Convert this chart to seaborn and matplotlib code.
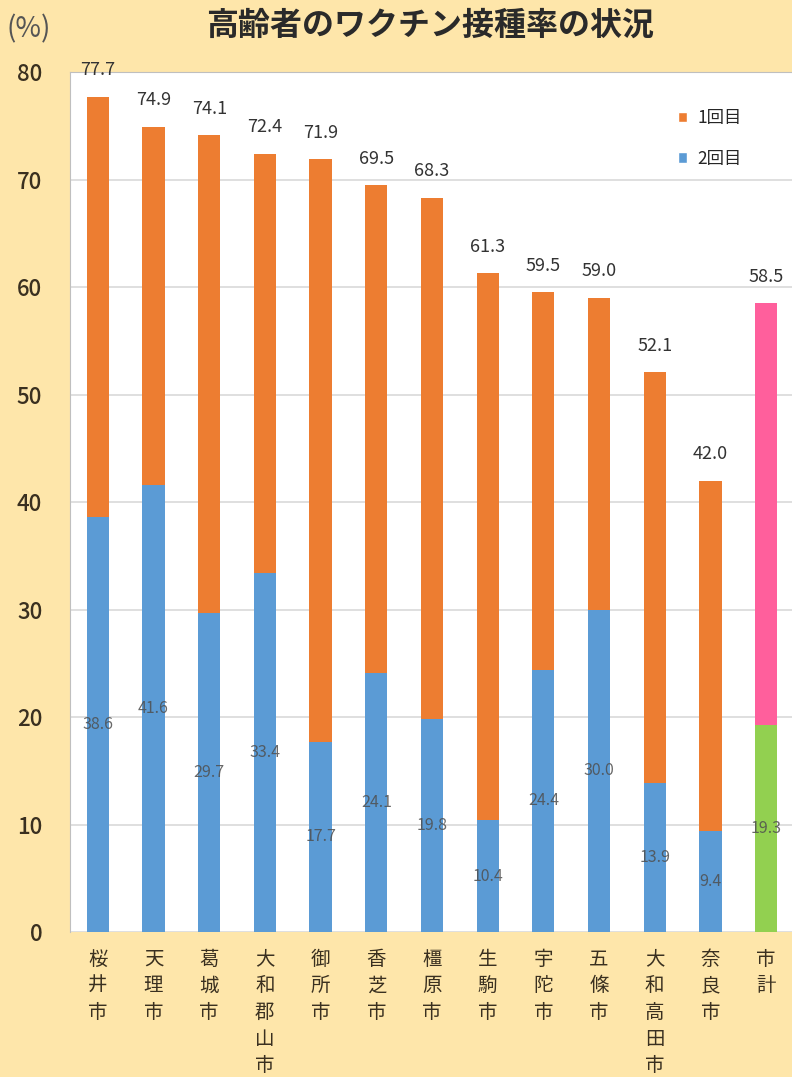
import matplotlib
matplotlib.use('Agg')
import matplotlib.pyplot as plt
import seaborn as sns
import pandas as pd
from matplotlib.patches import Patch

cities = ['桜井市', '天理市', '葛城市', '大和郡山市', '御所市', '香芝市', '橿原市',
          '生駒市', '宇陀市', '五條市', '大和高田市', '奈良市', '市計']
dose1 = [77.7, 74.9, 74.1, 72.4, 71.9, 69.5, 68.3, 61.3, 59.5, 59.0, 52.1, 42.0, 58.5]
dose2 = [38.6, 41.6, 29.7, 33.4, 17.7, 24.1, 19.8, 10.4, 24.4, 30.0, 13.9, 9.4, 19.3]

orange = '#ED7D31'
blue = '#5B9BD5'
pink = '#FF5F9C'
green = '#92D050'
bg = '#FEE6AA'

df = pd.DataFrame({'city': cities, 'dose1': dose1, 'dose2': dose2})

sns.set_style('white')
plt.rcParams['font.family'] = ['Noto Sans CJK JP', 'DejaVu Sans']

fig = plt.figure(figsize=(7.92, 10.77), dpi=100, facecolor=bg)
ax = fig.add_axes([0.0884, 0.1346, 0.914, 0.7985])
ax.set_facecolor('white')

pal1 = [orange] * 12 + [pink]
pal2 = [blue] * 12 + [green]
sns.barplot(data=df, x='city', y='dose1', hue='city', palette=pal1, width=0.4,
            legend=False, ax=ax, saturation=1, linewidth=0, zorder=2)
sns.barplot(data=df, x='city', y='dose2', hue='city', palette=pal2, width=0.4,
            legend=False, ax=ax, saturation=1, linewidth=0, zorder=3)

ax.set_ylim(0, 80)
ax.set_xlim(-0.5, 12.5)
ax.set_yticks(range(0, 81, 10))
ax.yaxis.grid(True, color='#D9D9D9', linewidth=1.2, zorder=0)
ax.set_axisbelow(True)
for s in ['left', 'top', 'right']:
    ax.spines[s].set_color('#BFBFBF')
ax.spines['bottom'].set_visible(False)

ax.tick_params(axis='y', length=0, labelsize=16, labelcolor='#3A3020', pad=20)
for t in ax.get_yticklabels():
    t.set_fontweight('medium')
ax.set_xticks(range(len(cities)))
ax.set_xticklabels(['\n'.join(c) for c in cities], fontsize=14, color='#3A3020',
                   linespacing=1.35, va='top')
ax.tick_params(axis='x', length=0, pad=12)
ax.set_xlabel('')
ax.set_ylabel('')

for i, (a, b) in enumerate(zip(dose1, dose2)):
    ax.annotate(f'{a:.1f}', (i, a), xytext=(0, 19), textcoords='offset points',
                ha='center', va='center', fontsize=13, color='#333333')
    ax.text(i, b / 2, f'{b:.1f}', ha='center', va='center', fontsize=11.5,
            color='#4F4F4F', alpha=0.85, zorder=4)

handles = [Patch(facecolor=orange, label='1回目'), Patch(facecolor=blue, label='2回目')]
leg = ax.legend(handles=handles, loc='upper right', bbox_to_anchor=(0.95, 0.975),
                frameon=False, fontsize=12.5, handlelength=0.55, handleheight=0.55,
                labelspacing=1.3, handletextpad=0.6)

fig.text(0.543, 0.976, '高齢者のワクチン接種率の状況', ha='center', va='center',
         fontsize=23, fontweight='bold', color='#2A2A2A')
fig.text(0.008, 0.973, '(%)', ha='left', va='center', fontsize=20, color='#555555')

fig.savefig('out.png', dpi=100, facecolor=bg)
